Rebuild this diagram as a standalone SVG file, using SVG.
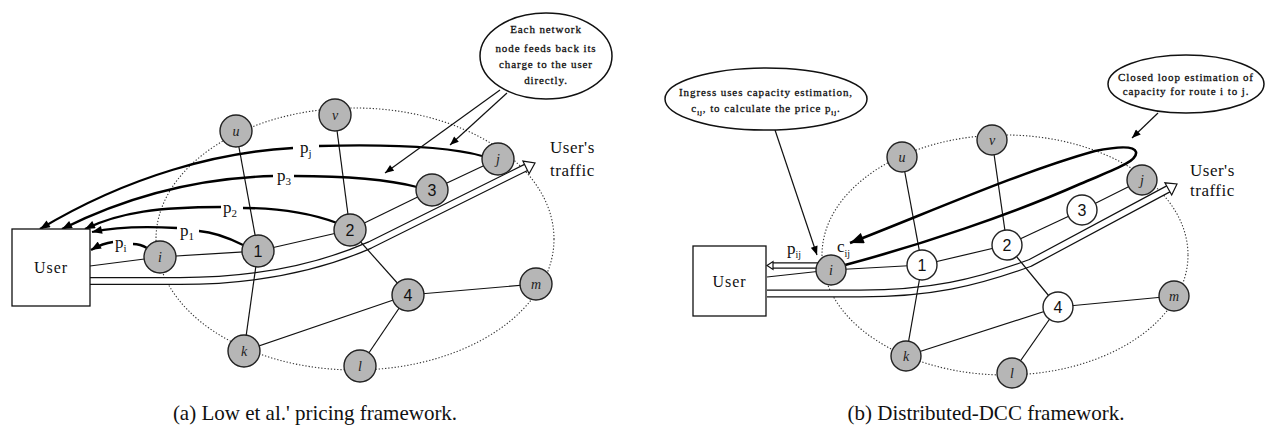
<svg xmlns="http://www.w3.org/2000/svg" width="1265" height="426" viewBox="0 0 1265 426">
<defs>
<style>
.ser{font-family:"Liberation Serif","Times New Roman",serif;fill:#111}
.num{font-family:"Liberation Sans",Arial,sans-serif;font-size:16px;fill:#111;text-anchor:middle}
.let{font-family:"Liberation Serif",serif;font-style:italic;font-size:14px;fill:#222;text-anchor:middle}
.gnode{fill:#b6b6b6;stroke:#222;stroke-width:1.4}
.wnode{fill:#fff;stroke:#222;stroke-width:1.4}
.edge{stroke:#111;stroke-width:1.2;fill:none}
.price{stroke:#000;stroke-width:2.3;fill:none}
.dot{fill:none;stroke:#333;stroke-width:1.1;stroke-dasharray:1.3 1.9}
.callout{fill:#fff;stroke:#111;stroke-width:1.5}
.ctext{font-family:"Liberation Serif","Times New Roman",serif;font-size:11px;letter-spacing:0.9px;fill:#111;stroke:#111;stroke-width:0.3;text-anchor:middle}
.tout{stroke:#111;stroke-width:8;fill:none}
.tin{stroke:#fff;stroke-width:5.6;fill:none}
.head{fill:#fff;stroke:#111;stroke-width:1.2;stroke-linejoin:miter}
.cap{font-family:"Liberation Serif","Times New Roman",serif;font-size:21px;fill:#111;text-anchor:middle}
</style>
<marker id="ah" viewBox="0 0 10 8" refX="10" refY="4" markerWidth="11" markerHeight="8" markerUnits="userSpaceOnUse" orient="auto"><path d="M0,0 L10,4 L0,8 z" fill="#000"/></marker>
<marker id="ahs" viewBox="0 0 10 8" refX="10" refY="4" markerWidth="10" markerHeight="7" markerUnits="userSpaceOnUse" orient="auto"><path d="M0,0 L10,4 L0,8 z" fill="#000"/></marker>
<marker id="ahb" viewBox="0 0 10 8" refX="10" refY="4" markerWidth="15" markerHeight="11" markerUnits="userSpaceOnUse" orient="auto"><path d="M0,0 L10,4 L0,8 z" fill="#000"/></marker>
</defs>
<rect width="1265" height="426" fill="#fff"/>

<!-- ============ Panel (a) ============ -->
<ellipse class="dot" cx="355" cy="239" rx="199" ry="131"/>

<g id="connectors-a">
  <path class="tout" d="M90,281 L180,281 C260,281 320,267 370,245 L526,167.4"/>
  <path class="tin" d="M88,281 L180,281 C260,281 320,267 370,245 L526,167.4"/>
  <polygon class="head" points="535,163 529.1,173.7 522.9,161.1"/>
  <line class="edge" x1="90" y1="266" x2="160" y2="257"/>
  <line class="edge" x1="160" y1="257" x2="258" y2="251"/>
  <line class="edge" x1="258" y1="251" x2="350" y2="230"/>
  <line class="edge" x1="350" y1="230" x2="432" y2="190"/>
  <line class="edge" x1="432" y1="190" x2="498" y2="159"/>
  <line class="edge" x1="236" y1="131" x2="258" y2="251"/>
  <line class="edge" x1="258" y1="251" x2="244" y2="351"/>
  <line class="edge" x1="335" y1="115" x2="350" y2="230"/>
  <line class="edge" x1="350" y1="230" x2="408" y2="295"/>
  <line class="edge" x1="408" y1="295" x2="536" y2="284"/>
  <line class="edge" x1="408" y1="295" x2="244" y2="351"/>
  <line class="edge" x1="408" y1="295" x2="360" y2="366"/>
  <path class="price" d="M482,156 C450,147 400,144 319,146"/>
  <path class="price" d="M293,148 C220,152 130,175 40,229" marker-end="url(#ah)"/>
  <path class="price" d="M417,187 C390,180 350,176 294,176"/>
  <path class="price" d="M273,176 C200,178 130,195 62,229" marker-end="url(#ah)"/>
  <path class="price" d="M337,223 C310,213 280,208 243,208"/>
  <path class="price" d="M221,207 C160,207 120,212 85,229" marker-end="url(#ah)"/>
  <path class="price" d="M243,245 C225,236 212,232 199,231"/>
  <path class="price" d="M177,228 C140,226 115,227 92,232" marker-end="url(#ah)"/>
  <path class="price" d="M147,248 C142,245 138,244 133,244"/>
  <path class="price" d="M113,242 C104,243 98,246 91,250" marker-end="url(#ah)"/>
  <line class="edge" x1="500" y1="90" x2="385" y2="173" marker-end="url(#ahs)"/>
  <line class="edge" x1="507" y1="93" x2="450" y2="145" marker-end="url(#ahs)"/>
</g>

<g id="user-a">
  <rect x="12" y="229" width="78" height="77" fill="#fff" stroke="#111" stroke-width="1.3"/>
  <text class="ser" x="51" y="273" font-size="16" letter-spacing="1" text-anchor="middle">User</text>
</g>
<g id="node-a-i"><circle class="gnode" cx="160" cy="257" r="16"/><text class="let" x="160" y="262">i</text></g>
<g id="node-a-1"><circle class="gnode" cx="258" cy="251" r="16"/><text class="num" x="258" y="257">1</text></g>
<g id="node-a-2"><circle class="gnode" cx="350" cy="230" r="16"/><text class="num" x="350" y="236">2</text></g>
<g id="node-a-3"><circle class="gnode" cx="432" cy="190" r="16"/><text class="num" x="432" y="196">3</text></g>
<g id="node-a-4"><circle class="gnode" cx="408" cy="295" r="16"/><text class="num" x="408" y="301">4</text></g>
<g id="node-a-j"><circle class="gnode" cx="498" cy="159" r="16"/><text class="let" x="498" y="164">j</text></g>
<g id="node-a-u"><circle class="gnode" cx="236" cy="131" r="16"/><text class="let" x="236" y="136">u</text></g>
<g id="node-a-v"><circle class="gnode" cx="335" cy="115" r="16"/><text class="let" x="335" y="120">v</text></g>
<g id="node-a-k"><circle class="gnode" cx="244" cy="351" r="16"/><text class="let" x="244" y="356">k</text></g>
<g id="node-a-l"><circle class="gnode" cx="360" cy="366" r="16"/><text class="let" x="360" y="371">l</text></g>
<g id="node-a-m"><circle class="gnode" cx="536" cy="284" r="16"/><text class="let" x="536" y="289">m</text></g>

<g id="labels-a">
  <text class="ser" x="300" y="153" font-size="17">p<tspan font-size="11" dy="4">j</tspan></text>
  <text class="ser" x="277" y="181" font-size="17">p<tspan font-size="11" dy="4">3</tspan></text>
  <text class="ser" x="223" y="213" font-size="17">p<tspan font-size="11" dy="4">2</tspan></text>
  <text class="ser" x="180" y="236" font-size="17">p<tspan font-size="11" dy="4">1</tspan></text>
  <text class="ser" x="115" y="248" font-size="17">p<tspan font-size="11" dy="4">i</tspan></text>
  <text class="ser" x="550" y="153" font-size="17" letter-spacing="0.5">User's</text>
  <text class="ser" x="550" y="176" font-size="17" letter-spacing="0.5">traffic</text>
</g>

<g id="callout-a">
  <ellipse class="callout" cx="546" cy="56" rx="66" ry="43"/>
  <text class="ctext" x="546" y="33">Each network</text>
  <text class="ctext" x="546" y="52">node feeds back its</text>
  <text class="ctext" x="546" y="68">charge to the user</text>
  <text class="ctext" x="546" y="84">directly.</text>
</g>

<text class="cap" x="315" y="420">(a) Low et al.' pricing framework.</text>

<!-- ============ Panel (b) ============ -->
<ellipse class="dot" cx="1005" cy="255" rx="183" ry="120"/>

<g id="connectors-b">
  <path class="tout" d="M767,293.5 L860,293.5 C930,293.5 975,283 1030,263 L1168.3,188.9"/>
  <path class="tin" d="M765,293.5 L860,293.5 C930,293.5 975,283 1030,263 L1168.3,188.9"/>
  <polygon class="head" points="1177,184 1171.7,195 1164.9,182.8"/>
  <path stroke="#111" stroke-width="6.4" fill="none" d="M820,265.5 L771,265.5"/>
  <path stroke="#fff" stroke-width="4" fill="none" d="M822,265.5 L771,265.5"/>
  <polygon class="head" points="767,265.5 773,261.5 773,269.5"/>
  <line class="edge" x1="767" y1="277" x2="831" y2="270"/>
  <line class="edge" x1="831" y1="270" x2="922" y2="265"/>
  <line class="edge" x1="922" y1="265" x2="1007" y2="245"/>
  <line class="edge" x1="1007" y1="245" x2="1082" y2="210"/>
  <line class="edge" x1="1082" y1="210" x2="1142" y2="180"/>
  <line class="edge" x1="902" y1="157" x2="922" y2="265"/>
  <line class="edge" x1="922" y1="265" x2="906" y2="356"/>
  <line class="edge" x1="992" y1="140" x2="1007" y2="245"/>
  <line class="edge" x1="1007" y1="245" x2="1058" y2="307"/>
  <line class="edge" x1="1058" y1="307" x2="1174" y2="296"/>
  <line class="edge" x1="1058" y1="307" x2="906" y2="356"/>
  <line class="edge" x1="1058" y1="307" x2="1012" y2="373"/>
  <path stroke="#000" stroke-width="2.6" fill="none" d="M845,265 C920,245 1010,215 1080,184 C1110,171 1138,162 1136,152 C1134,145 1115,147 1095,151 C1020,172 930,212 850,243" marker-end="url(#ahb)"/>
  <line class="edge" x1="775" y1="130" x2="817" y2="255" marker-end="url(#ahs)"/>
  <line class="edge" x1="1158" y1="113" x2="1132" y2="138" marker-end="url(#ahs)"/>
</g>

<g id="user-b">
  <rect x="693" y="246" width="73" height="70" fill="#fff" stroke="#111" stroke-width="1.3"/>
  <text class="ser" x="729.5" y="287" font-size="16" letter-spacing="1" text-anchor="middle">User</text>
</g>
<g id="node-b-i"><circle class="gnode" cx="831" cy="270" r="15"/><text class="let" x="831" y="275">i</text></g>
<g id="node-b-1"><circle class="wnode" cx="922" cy="265" r="15"/><text class="num" x="922" y="271">1</text></g>
<g id="node-b-2"><circle class="wnode" cx="1007" cy="245" r="15"/><text class="num" x="1007" y="251">2</text></g>
<g id="node-b-3"><circle class="wnode" cx="1082" cy="210" r="15"/><text class="num" x="1082" y="216">3</text></g>
<g id="node-b-4"><circle class="wnode" cx="1058" cy="307" r="15"/><text class="num" x="1058" y="313">4</text></g>
<g id="node-b-j"><circle class="gnode" cx="1142" cy="180" r="15"/><text class="let" x="1142" y="185">j</text></g>
<g id="node-b-u"><circle class="gnode" cx="902" cy="157" r="15"/><text class="let" x="902" y="162">u</text></g>
<g id="node-b-v"><circle class="gnode" cx="992" cy="140" r="15"/><text class="let" x="992" y="145">v</text></g>
<g id="node-b-k"><circle class="gnode" cx="906" cy="356" r="15"/><text class="let" x="906" y="361">k</text></g>
<g id="node-b-l"><circle class="gnode" cx="1012" cy="373" r="15"/><text class="let" x="1012" y="378">l</text></g>
<g id="node-b-m"><circle class="gnode" cx="1174" cy="296" r="15"/><text class="let" x="1174" y="301">m</text></g>

<g id="labels-b">
  <text class="ser" x="787" y="254" font-size="17">p<tspan font-size="10" dy="4">ij</tspan></text>
  <text class="ser" x="837" y="252" font-size="17">c<tspan font-size="10" dy="5">ij</tspan></text>
  <text class="ser" x="1190" y="176" font-size="17" letter-spacing="0.5">User's</text>
  <text class="ser" x="1190" y="196" font-size="17" letter-spacing="0.5">traffic</text>
</g>

<g id="callout-b1">
  <ellipse class="callout" cx="766" cy="99" rx="101" ry="31"/>
  <text class="ctext" x="766" y="96" letter-spacing="0.6">Ingress uses capacity estimation,</text>
  <text class="ctext" x="766" y="112" letter-spacing="0.6">c<tspan font-size="7" dy="3">ij</tspan><tspan dy="-3">, to calculate the price p</tspan><tspan font-size="7" dy="3">ij</tspan><tspan dy="-3">.</tspan></text>
</g>
<g id="callout-b2">
  <ellipse class="callout" cx="1186" cy="84" rx="78" ry="29"/>
  <text class="ctext" x="1186" y="81" letter-spacing="0.7">Closed loop estimation of</text>
  <text class="ctext" x="1186" y="95" letter-spacing="0.7">capacity for route i to j.</text>
</g>

<text class="cap" x="986" y="420">(b) Distributed-DCC framework.</text>
</svg>
